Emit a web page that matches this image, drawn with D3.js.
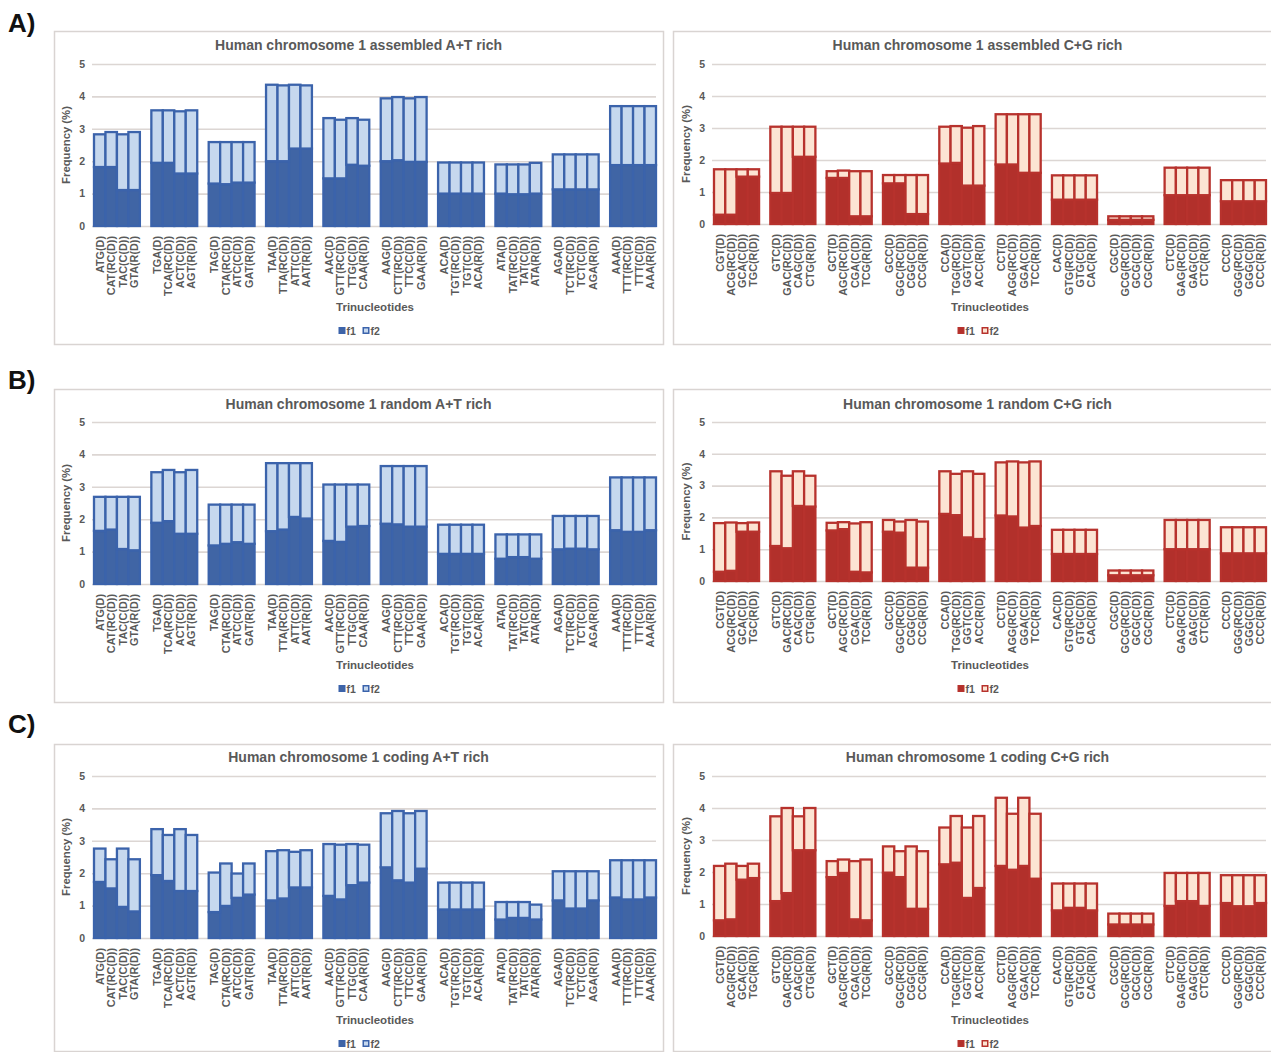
<!DOCTYPE html>
<html>
<head>
<meta charset="utf-8">
<script src="https://cdn.jsdelivr.net/npm/d3@7"></script>
<style>
  html, body { margin: 0; padding: 0; background: #fff; }
  svg { display: block; font-family: "Liberation Sans", Arial, sans-serif; }
</style>
</head>
<body>
<svg id="fig" width="1271" height="1052"></svg>
<script>
// ---- Category labels (4 trinucleotide variants per group, 10 groups) ----
const atCategories = [
  "ATG(D)", "CAT(RC(D))", "TAC(C(D))", "GTA(R(D))",
  "TGA(D)", "TCA(RC(D))", "ACT(C(D))", "AGT(R(D))",
  "TAG(D)", "CTA(RC(D))", "ATC(C(D))", "GAT(R(D))",
  "TAA(D)", "TTA(RC(D))", "ATT(C(D))", "AAT(R(D))",
  "AAC(D)", "GTT(RC(D))", "TTG(C(D))", "CAA(R(D))",
  "AAG(D)", "CTT(RC(D))", "TTC(C(D))", "GAA(R(D))",
  "ACA(D)", "TGT(RC(D))", "TGT(C(D))", "ACA(R(D))",
  "ATA(D)", "TAT(RC(D))", "TAT(C(D))", "ATA(R(D))",
  "AGA(D)", "TCT(RC(D))", "TCT(C(D))", "AGA(R(D))",
  "AAA(D)", "TTT(RC(D))", "TTT(C(D))", "AAA(R(D))"
];
const cgCategories = [
  "CGT(D)", "ACG(RC(D))", "GCA(C(D))", "TGC(R(D))",
  "GTC(D)", "GAC(RC(D))", "CAG(C(D))", "CTG(R(D))",
  "GCT(D)", "AGC(RC(D))", "CGA(C(D))", "TCG(R(D))",
  "GCC(D)", "GGC(RC(D))", "CGG(C(D))", "CCG(R(D))",
  "CCA(D)", "TGG(RC(D))", "GGT(C(D))", "ACC(R(D))",
  "CCT(D)", "AGG(RC(D))", "GGA(C(D))", "TCC(R(D))",
  "CAC(D)", "GTG(RC(D))", "GTG(C(D))", "CAC(R(D))",
  "CGC(D)", "GCG(RC(D))", "GCG(C(D))", "CGC(R(D))",
  "CTC(D)", "GAG(RC(D))", "GAG(C(D))", "CTC(R(D))",
  "CCC(D)", "GGG(RC(D))", "GGG(C(D))", "CCC(R(D))"
];
const yTicks = [0, 1, 2, 3, 4, 5];
const seriesNames = ["f1", "f2"];

// ---- Frequencies (%) : f1 = lower segment, f2 = upper segment ----
const assembledAT_f1 = [1.82,1.82,1.11,1.11, 1.95,1.95,1.62,1.62, 1.31,1.29,1.34,1.34, 2.00,2.00,2.39,2.39, 1.47,1.47,1.89,1.86,
                        2.00,2.03,1.98,1.98, 1.00,1.00,1.00,1.00, 1.00,0.98,0.98,1.00, 1.13,1.13,1.13,1.13, 1.88,1.88,1.88,1.88];
const assembledAT_f2 = [1.01,1.08,1.72,1.79, 1.62,1.62,1.92,1.95, 1.28,1.30,1.25,1.25, 2.36,2.34,1.97,1.95, 1.86,1.81,1.44,1.42,
                        1.94,1.95,1.96,2.00, 0.96,0.96,0.96,0.96, 0.90,0.92,0.92,0.95, 1.08,1.08,1.08,1.08, 1.82,1.82,1.82,1.82];
const assembledCG_f1 = [0.29,0.29,1.48,1.48, 0.97,0.97,2.10,2.10, 1.44,1.44,0.24,0.24, 1.27,1.27,0.31,0.31, 1.89,1.91,1.20,1.20,
                        1.86,1.86,1.60,1.60, 0.76,0.76,0.76,0.76, 0.13,0.13,0.13,0.13, 0.90,0.90,0.90,0.90, 0.71,0.71,0.71,0.71];
const assembledCG_f2 = [1.42,1.42,0.23,0.23, 2.07,2.07,0.94,0.94, 0.21,0.23,1.41,1.41, 0.26,0.26,1.22,1.22, 1.15,1.15,1.81,1.86,
                        1.57,1.57,1.83,1.83, 0.76,0.76,0.76,0.76, 0.11,0.11,0.11,0.11, 0.86,0.86,0.86,0.86, 0.66,0.66,0.66,0.66];
const randomAT_f1 = [1.64,1.68,1.08,1.04, 1.89,1.94,1.55,1.55, 1.19,1.24,1.29,1.24, 1.63,1.68,2.07,2.02, 1.33,1.30,1.77,1.79,
                     1.86,1.84,1.77,1.77, 0.93,0.93,0.93,0.93, 0.78,0.83,0.83,0.78, 1.07,1.09,1.09,1.07, 1.66,1.61,1.61,1.66];
const randomAT_f2 = [1.05,1.01,1.61,1.65, 1.56,1.58,1.90,1.97, 1.26,1.21,1.16,1.21, 2.10,2.05,1.66,1.71, 1.74,1.77,1.30,1.28,
                     1.78,1.80,1.87,1.87, 0.90,0.90,0.90,0.90, 0.75,0.70,0.70,0.75, 1.03,1.01,1.01,1.03, 1.63,1.68,1.68,1.63];
const randomCG_f1 = [0.29,0.32,1.55,1.55, 1.10,1.03,2.36,2.34, 1.59,1.63,0.29,0.27, 1.55,1.52,0.42,0.42, 2.11,2.07,1.37,1.32,
                     2.06,2.03,1.68,1.73, 0.85,0.85,0.85,0.85, 0.18,0.18,0.18,0.18, 1.00,1.00,1.00,1.00, 0.87,0.87,0.87,0.87];
const randomCG_f2 = [1.53,1.52,0.27,0.29, 2.35,2.28,1.09,0.97, 0.24,0.22,1.52,1.58, 0.37,0.35,1.50,1.45, 1.34,1.30,2.08,2.05,
                     1.67,1.73,2.05,2.03, 0.76,0.76,0.76,0.76, 0.15,0.15,0.15,0.15, 0.92,0.92,0.92,0.92, 0.82,0.82,0.82,0.82];
const codingAT_f1 = [1.73,1.53,0.96,0.82, 1.94,1.76,1.45,1.45, 0.80,0.99,1.24,1.34, 1.16,1.22,1.56,1.56, 1.30,1.19,1.63,1.71,
                     2.18,1.78,1.71,2.14, 0.88,0.88,0.88,0.88, 0.57,0.62,0.62,0.57, 1.16,0.91,0.91,1.16, 1.25,1.19,1.19,1.25];
const codingAT_f2 = [1.03,0.90,1.80,1.61, 1.42,1.42,1.91,1.73, 1.22,1.31,0.75,0.96, 1.52,1.49,1.10,1.15, 1.60,1.69,1.27,1.17,
                     1.67,2.14,2.14,1.78, 0.83,0.83,0.83,0.83, 0.54,0.49,0.49,0.46, 0.90,1.15,1.15,0.90, 1.15,1.21,1.21,1.15];
const codingCG_f1 = [0.49,0.52,1.76,1.81, 1.09,1.34,2.68,2.68, 1.84,1.97,0.52,0.49, 1.98,1.84,0.85,0.85, 2.24,2.29,1.19,1.50,
                     2.19,2.07,2.19,1.79, 0.80,0.88,0.88,0.80, 0.36,0.36,0.36,0.36, 0.94,1.09,1.09,0.94, 1.03,0.93,0.93,1.03];
const codingCG_f2 = [1.70,1.74,0.43,0.45, 2.65,2.66,1.06,1.32, 0.50,0.42,1.82,1.90, 0.82,0.81,1.95,1.80, 1.15,1.46,2.20,2.25,
                     2.13,1.75,2.13,2.03, 0.84,0.76,0.76,0.84, 0.34,0.34,0.34,0.34, 1.03,0.88,0.88,1.03, 0.87,0.97,0.97,0.87];

// ---- Layout ----
const svg = d3.select("#fig");
const TEXT = "#595959";
const GRID = "#DCD6D3";
const BORDER = "#D9D4D2";
const palette = {
  at: { dark: "#4065A5", stroke: "#3B63AB", light: "#C6D8EE" },
  cg: { dark: "#B2302B", stroke: "#B7322D", light: "#FCE4D3" }
};

const rows = [
  { tag: "A)", tagY: 32, top: 31, bottom: 344, y5: 64, y0: [226, 224], titleY: 50, trinY: 311, legY: 331,
    panels: [
      { title: "Human chromosome 1 assembled A+T rich", f1: assembledAT_f1, f2: assembledAT_f2 },
      { title: "Human chromosome 1 assembled C+G rich", f1: assembledCG_f1, f2: assembledCG_f2 }
    ] },
  { tag: "B)", tagY: 389, top: 389, bottom: 702, y5: 422, y0: [584, 581], titleY: 409, trinY: 669, legY: 689,
    panels: [
      { title: "Human chromosome 1 random A+T rich", f1: randomAT_f1, f2: randomAT_f2 },
      { title: "Human chromosome 1 random C+G rich", f1: randomCG_f1, f2: randomCG_f2 }
    ] },
  { tag: "C)", tagY: 733, top: 744, bottom: 1051, y5: 776, y0: [938, 936], titleY: 762, trinY: 1024, legY: 1044,
    panels: [
      { title: "Human chromosome 1 coding A+T rich", f1: codingAT_f1, f2: codingAT_f2 },
      { title: "Human chromosome 1 coding C+G rich", f1: codingCG_f1, f2: codingCG_f2 }
    ] }
];
const columns = [
  { left: 54, width: 609, x0: 94, x1: 656, tickX: 85, labelX: 70, kind: "at", cats: atCategories },
  { left: 673, width: 609, x0: 714, x1: 1266, tickX: 705, labelX: 690, kind: "cg", cats: cgCategories }
];

// four bars per group, one empty slot between groups
const slotOf = i => Math.floor(i / 4) * 5 + (i % 4);
const nSlots = 49;

rows.forEach(row => {
  svg.append("text")
    .attr("x", 8).attr("y", row.tagY)
    .attr("font-size", 26).attr("font-weight", "bold").attr("fill", "#111")
    .text(row.tag);

  row.panels.forEach((p, ci) => {
    const col = columns[ci];
    const colors = palette[col.kind];
    const g = svg.append("g");
    const y0 = row.y0[ci];

    g.append("rect")
      .attr("x", col.left + 0.5).attr("y", row.top + 0.5)
      .attr("width", col.width).attr("height", row.bottom - row.top)
      .attr("fill", "#fff").attr("stroke", BORDER).attr("stroke-width", 1.5);

    g.append("text")
      .attr("x", col.left + col.width / 2).attr("y", row.titleY)
      .attr("text-anchor", "middle").attr("font-size", 14).attr("font-weight", "bold")
      .attr("fill", TEXT).text(p.title);

    const y = d3.scaleLinear().domain([0, 5]).range([y0, row.y5]);
    const x = d3.scaleBand().domain(d3.range(nSlots)).range([col.x0, col.x1]).padding(0);

    // gridlines + tick labels
    const axis = g.append("g")
      .attr("transform", `translate(${col.x0 - 2},0)`)
      .call(d3.axisLeft(y).tickValues(yTicks).tickSize(-(col.x1 - col.x0 + 2))
        .tickPadding(col.x0 - 2 - col.tickX).tickFormat(d3.format("d")));
    axis.select(".domain").remove();
    axis.selectAll(".tick line").attr("stroke", GRID).attr("stroke-width", 1.6);
    axis.selectAll(".tick text").attr("fill", TEXT).attr("font-size", 10.5)
      .attr("font-weight", "bold").attr("font-family", "Liberation Sans, Arial, sans-serif");

    g.append("text")
      .attr("transform", `translate(${col.labelX},${(y0 + row.y5) / 2}) rotate(-90)`)
      .attr("text-anchor", "middle").attr("font-size", 11.3).attr("font-weight", "bold")
      .attr("fill", TEXT).text("Frequency (%)");

    // stacked bars
    const table = col.cats.map((c, i) => ({ slot: slotOf(i), f1: p.f1[i], f2: p.f2[i] }));
    const stacked = d3.stack().keys(seriesNames)(table);
    stacked.forEach(layer => {
      const isF1 = layer.key === "f1";
      g.append("g").selectAll("rect").data(layer).join("rect")
        .attr("x", d => x(d.data.slot))
        .attr("width", x.bandwidth())
        .attr("y", d => y(d[1]))
        .attr("height", d => y(d[0]) - y(d[1]))
        .attr("fill", isF1 ? colors.dark : colors.light)
        .attr("stroke", colors.stroke)
        .attr("stroke-width", 2.3);
    });

    // rotated category labels
    g.append("g").selectAll("text").data(col.cats).join("text")
      .attr("transform", (d, i) => `translate(${x(slotOf(i)) + x.bandwidth() / 2},${y0 + 10}) rotate(-90)`)
      .attr("dy", "0.36em")
      .attr("text-anchor", "end").attr("font-size", 10.8).attr("font-weight", "bold")
      .attr("fill", TEXT).text(d => d);

    g.append("text")
      .attr("x", (col.x0 + col.x1) / 2).attr("y", row.trinY)
      .attr("text-anchor", "middle").attr("font-size", 11.5).attr("font-weight", "bold")
      .attr("fill", TEXT).text("Trinucleotides");

    // legend
    const lg = g.append("g").attr("transform", `translate(${col.left + col.width / 2 - 20},${row.legY})`);
    seriesNames.forEach((s, k) => {
      const ox = k * 24;
      lg.append("rect").attr("x", ox + 0.75).attr("y", -3.25).attr("width", 5.5).attr("height", 5.5)
        .attr("fill", k === 0 ? colors.dark : colors.light)
        .attr("stroke", colors.stroke).attr("stroke-width", 1.5);
      lg.append("text").attr("x", ox + 8).attr("y", 0).attr("dy", "0.36em")
        .attr("font-size", 10.5).attr("font-weight", "bold").attr("fill", TEXT).text(s);
    });
  });
});
</script>
</body>
</html>
